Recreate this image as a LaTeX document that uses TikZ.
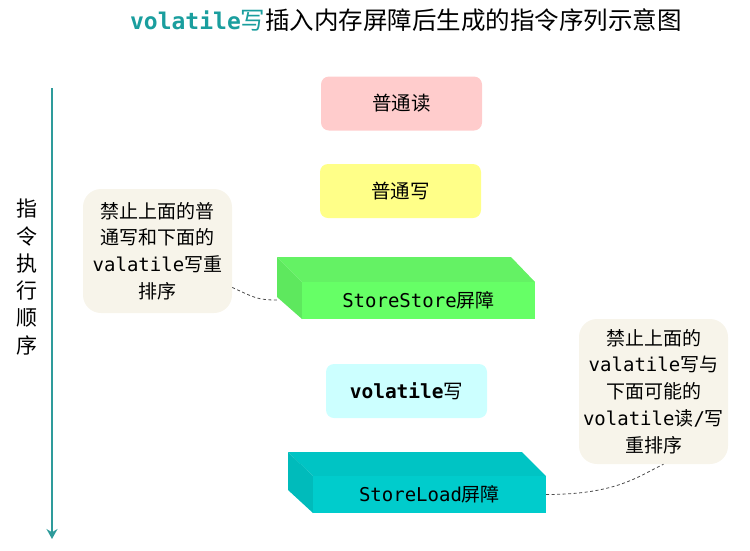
\documentclass[tikz,border=0pt]{standalone}
\usepackage{fontspec}
\setmainfont{DejaVu Sans Mono}
\newfontfamily\cjk{Noto Sans CJK SC}
\usetikzlibrary{arrows.meta}
\definecolor{titleteal}{HTML}{1A9E9E}
\definecolor{arrowteal}{HTML}{2E9B9B}
\definecolor{pinkbox}{HTML}{FFCCCC}
\definecolor{yellowbox}{HTML}{FFFF88}
\definecolor{cyanbox}{HTML}{CCFFFF}
\definecolor{greenfront}{HTML}{66FF66}
\definecolor{greentop}{HTML}{64F264}
\definecolor{greenside}{HTML}{5EE85E}
\definecolor{tealfront}{HTML}{00CCCC}
\definecolor{tealtop}{HTML}{00C4C4}
\definecolor{tealside}{HTML}{00BBBB}
\definecolor{beige}{HTML}{F7F4EA}
\tikzset{
  plainbox/.style={rounded corners=8pt, minimum width=161pt, minimum height=54pt, inner sep=0pt, font=\fontsize{19.5}{24}\selectfont},
  callout/.style={fill=beige, rounded corners=18pt, minimum width=149pt, align=center, inner sep=0pt, font=\fontsize{19}{26.8}\selectfont},
  frontface/.style={inner sep=0pt, font=\fontsize{19}{24}\selectfont},
  leader/.style={draw=black!70, dash pattern=on 3pt off 2.5pt, line width=0.8pt}
}
\begin{document}
\begin{tikzpicture}[x=1pt,y=-1pt]
\useasboundingbox (0,0) rectangle (750,550);

% title
\node (title) at (406,20) {\fontsize{23}{28}\selectfont{\color{titleteal}\bfseries volatile{\fontsize{24.5}{28}\selectfont\cjk\mdseries 写}}{\fontsize{24.5}{28}\selectfont\cjk 插入内存屏障后生成的指令序列示意图}};

% order arrow
\coordinate (atop) at (52,88);
\coordinate (abot) at (52,539);
\draw[arrowteal, line width=1.6pt, -{Stealth[length=10pt,width=11pt]}] (atop) -- (abot);
\node[align=center, font=\fontsize{21}{27.3}\selectfont\cjk] (order) at (27,277) {指\\令\\执\\行\\顺\\序};

% plain boxes
\node[plainbox, fill=pinkbox] (nr) at (401.5,103.5) {\cjk 普通读};
\node[plainbox, fill=yellowbox] (nw) at (400.5,191) {\cjk 普通写};
\node[plainbox, fill=cyanbox] (vw) at (406.5,391) {\bfseries volatile{\cjk\mdseries 写}};

% StoreStore 3D box
\fill[greentop] (277,257) -- (511,257) -- (535,282) -- (302,282) -- cycle;
\fill[greenside] (277,257) -- (302,282) -- (302,319) -- (277,297) -- cycle;
\node[frontface, fill=greenfront, minimum width=233pt, minimum height=37pt] (ss) at (418.5,300.5) {StoreStore{\cjk 屏障}};
\coordinate (ssl) at (277,300);

% StoreLoad 3D box
\fill[tealtop] (288,452) -- (522,452) -- (546,476) -- (313,476) -- cycle;
\fill[tealside] (288,452) -- (313,476) -- (313,513) -- (288,490) -- cycle;
\node[frontface, fill=tealfront, minimum width=233pt, minimum height=37pt] (sl) at (429.5,494.5) {StoreLoad{\cjk 屏障}};

% callouts
\node[callout, minimum height=124pt] (lc) at (157.5,251) {{\cjk 禁止上面的普}\\{\cjk 通写和下面的}\\valatile{\cjk 写重}\\{\cjk 排序}};
\node[callout, minimum height=145pt] (rc) at (653.5,391.5) {{\cjk 禁止上面的}\\valatile{\cjk 写与}\\{\cjk 下面可能的}\\volatile{\cjk 读}/{\cjk 写}\\{\cjk 重排序}};

% leaders
\draw[leader] (lc.-26) .. controls +(22,10) and +(-20,0) .. (ssl);
\draw[leader] (sl.east) .. controls +(70,0) and +(-25,12) .. ([xshift=10pt]rc.south);
\end{tikzpicture}
\end{document}
